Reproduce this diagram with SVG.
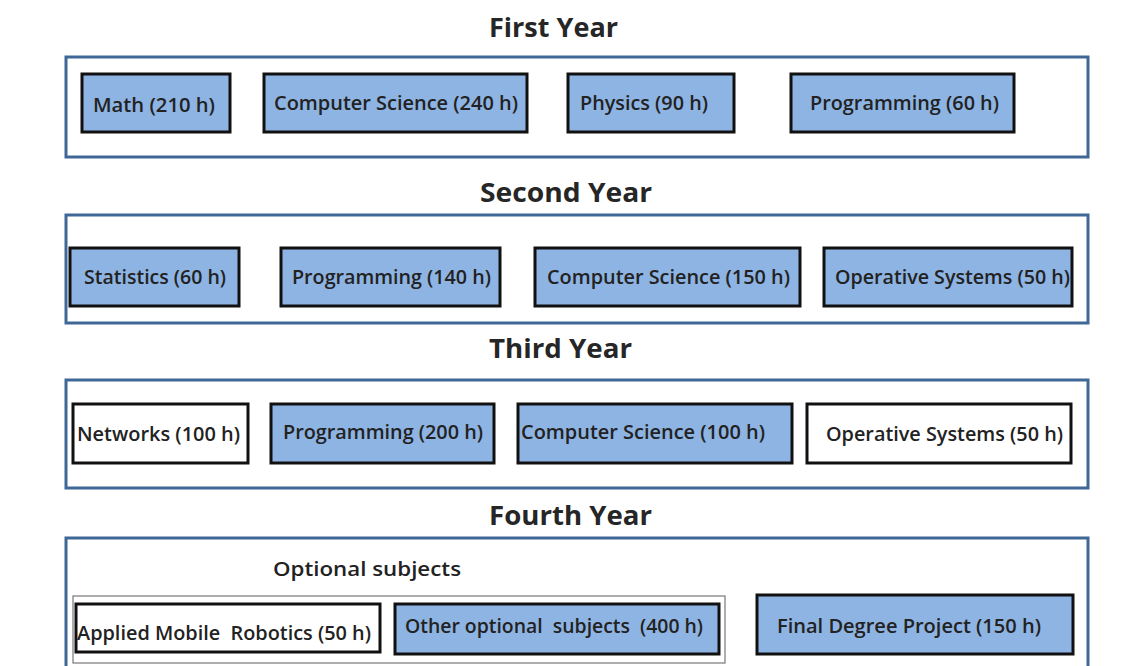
<svg xmlns="http://www.w3.org/2000/svg" width="1135" height="666" viewBox="0 0 1135 666">
<style>
.bg{fill:#ffffff}
.year{fill:#ffffff;stroke:#3f6897;stroke-width:3}
.title{font-family:"Open Sans","Liberation Sans",sans-serif;font-weight:700;font-size:27px;fill:#262626}
.box{stroke:#111111;stroke-width:3}
.blue{fill:#8eb4e3}
.white{fill:#ffffff}
.lbl{font-family:"Open Sans","Liberation Sans",sans-serif;font-weight:600;font-size:20px;fill:#222222}
.opt{fill:none;stroke:#777777;stroke-width:1.2}
</style>
<rect class="bg" x="0" y="0" width="1135" height="666"/>

<g id="year1">
<text class="title" x="489" y="37" textLength="129" lengthAdjust="spacingAndGlyphs">First Year</text>
<rect class="year" x="66" y="57" width="1022" height="100"/>
</g>
<g id="y1-math"><rect class="box blue" x="82" y="74" width="148" height="58"/><text class="lbl" x="93" y="112" textLength="122" lengthAdjust="spacingAndGlyphs">Math (210 h)</text></g>
<g id="y1-cs"><rect class="box blue" x="264" y="74" width="263" height="58"/><text class="lbl" x="274" y="110" textLength="244" lengthAdjust="spacingAndGlyphs">Computer Science (240 h)</text></g>
<g id="y1-physics"><rect class="box blue" x="568" y="74" width="166" height="58"/><text class="lbl" x="580" y="110" textLength="128" lengthAdjust="spacingAndGlyphs">Physics (90 h)</text></g>
<g id="y1-prog"><rect class="box blue" x="791" y="74" width="223" height="58"/><text class="lbl" x="810" y="110" textLength="189" lengthAdjust="spacingAndGlyphs">Programming (60 h)</text></g>

<g id="year2">
<text class="title" x="480" y="202" textLength="172" lengthAdjust="spacingAndGlyphs">Second Year</text>
<rect class="year" x="66" y="215" width="1022" height="108"/>
</g>
<g id="y2-stat"><rect class="box blue" x="70" y="248" width="169" height="58"/><text class="lbl" x="84" y="284" textLength="142" lengthAdjust="spacingAndGlyphs">Statistics (60 h)</text></g>
<g id="y2-prog"><rect class="box blue" x="281" y="248" width="219" height="58"/><text class="lbl" x="292" y="284" textLength="199" lengthAdjust="spacingAndGlyphs">Programming (140 h)</text></g>
<g id="y2-cs"><rect class="box blue" x="535" y="248" width="265" height="58"/><text class="lbl" x="547" y="284" textLength="243" lengthAdjust="spacingAndGlyphs">Computer Science (150 h)</text></g>
<g id="y2-os"><rect class="box blue" x="824" y="248" width="248" height="58"/><text class="lbl" x="835" y="284" textLength="235" lengthAdjust="spacingAndGlyphs">Operative Systems (50 h)</text></g>

<g id="year3">
<text class="title" x="489" y="358" textLength="143" lengthAdjust="spacingAndGlyphs">Third Year</text>
<rect class="year" x="66" y="380" width="1022" height="108"/>
</g>
<g id="y3-net"><rect class="box white" x="73" y="404" width="175" height="59"/><text class="lbl" x="77" y="441" textLength="163" lengthAdjust="spacingAndGlyphs">Networks (100 h)</text></g>
<g id="y3-prog"><rect class="box blue" x="271" y="404" width="223" height="59"/><text class="lbl" x="283" y="439" textLength="200" lengthAdjust="spacingAndGlyphs">Programming (200 h)</text></g>
<g id="y3-cs"><rect class="box blue" x="518" y="404" width="274" height="59"/><text class="lbl" x="521" y="439" textLength="244" lengthAdjust="spacingAndGlyphs">Computer Science (100 h)</text></g>
<g id="y3-os"><rect class="box white" x="807" y="404" width="264" height="59"/><text class="lbl" x="826" y="441" textLength="237" lengthAdjust="spacingAndGlyphs">Operative Systems (50 h)</text></g>

<g id="year4">
<text class="title" x="489" y="525" textLength="163" lengthAdjust="spacingAndGlyphs">Fourth Year</text>
<rect class="year" x="66" y="538" width="1022" height="140"/>
</g>
<g id="optional">
<text class="lbl" x="273" y="576" textLength="188" lengthAdjust="spacingAndGlyphs">Optional subjects</text>
<rect class="opt" x="73" y="596" width="652" height="67"/>
</g>
<g id="y4-robotics"><rect class="box white" x="76" y="604" width="304" height="48"/><text class="lbl" x="77" y="640" textLength="294" lengthAdjust="spacingAndGlyphs" xml:space="preserve">Applied Mobile  Robotics (50 h)</text></g>
<g id="y4-other"><rect class="box blue" x="395" y="604" width="324" height="50"/><text class="lbl" x="405" y="633" textLength="298" lengthAdjust="spacingAndGlyphs" xml:space="preserve">Other optional  subjects  (400 h)</text></g>
<g id="y4-final"><rect class="box blue" x="757" y="595" width="316" height="59"/><text class="lbl" x="777" y="633" textLength="264" lengthAdjust="spacingAndGlyphs">Final Degree Project (150 h)</text></g>

<g id="connectors"></g>
</svg>
